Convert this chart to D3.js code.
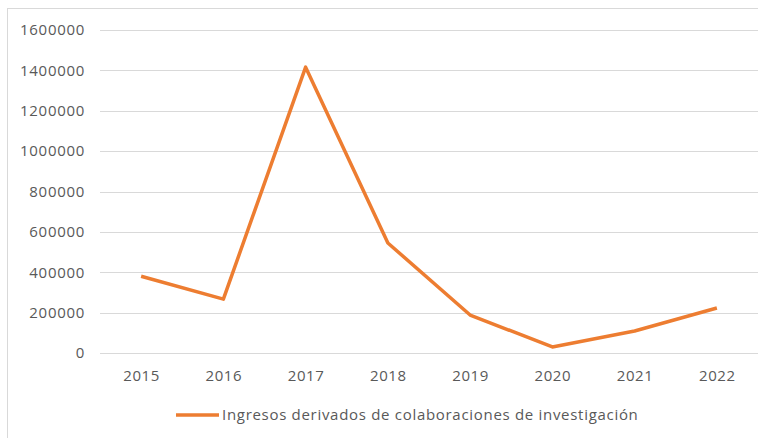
<!DOCTYPE html>
<html lang="es">
<head>
<meta charset="UTF-8">
<title>Ingresos</title>
<script src="https://d3js.org/d3.v7.min.js"></script>
<style>
body { margin: 0; background: #fff; overflow: hidden; }
text { font-family: "Open Sans", "Noto Sans", sans-serif; fill: #595959; }
</style>
</head>
<body>
<div id="grafico"></div>
<script>
var anios = ["2015", "2016", "2017", "2018", "2019", "2020", "2021", "2022"];
var ingresos = [380000, 267000, 1416000, 545000, 188000, 30000, 109000, 223000];
var ticksY = [0, 200000, 400000, 600000, 800000, 1000000, 1200000, 1400000, 1600000];
var nombreSerie = "Ingresos derivados de colaboraciones de investigación";

var ancho = 758, altura = 438;
var margen = { izquierdo: 100, derecho: 0, superior: 30, inferior: 85 };

var svg = d3.select("#grafico").append("svg")
    .attr("width", ancho)
    .attr("height", altura);

// marco del grafico
svg.append("rect")
    .attr("x", 7.5).attr("y", 8.5)
    .attr("width", ancho).attr("height", altura)
    .attr("fill", "none").attr("stroke", "#d9d9d9");

var escalaX = d3.scalePoint()
    .domain(anios)
    .range([margen.izquierdo, ancho - margen.derecho])
    .padding(0.5);

var escalaY = d3.scaleLinear()
    .domain([0, 1600000])
    .range([353, 30]);

// rejilla
svg.append("g")
    .selectAll("line")
    .data(ticksY)
    .join("line")
    .attr("x1", margen.izquierdo)
    .attr("x2", ancho)
    .attr("y1", function(d) { return Math.round(escalaY(d)) + 0.5; })
    .attr("y2", function(d) { return Math.round(escalaY(d)) + 0.5; })
    .attr("stroke", "#d9d9d9");

// eje y
var ejeY = svg.append("g")
    .attr("transform", "translate(" + (margen.izquierdo - 15) + ",0)")
    .call(d3.axisLeft(escalaY).tickValues(ticksY).tickFormat(d3.format("d")).tickSize(0).tickPadding(0));
ejeY.select(".domain").remove();
ejeY.selectAll("text").style("font-size", "15px").style("letter-spacing", "0.7px").attr("fill", "#595959");

// eje x
var ejeX = svg.append("g")
    .attr("transform", "translate(0," + 370 + ")")
    .call(d3.axisBottom(escalaX).tickSize(0).tickPadding(0));
ejeX.select(".domain").remove();
ejeX.selectAll("text").style("font-size", "15px").style("letter-spacing", "0.6px").attr("fill", "#595959");

// linea
var linea = d3.line()
    .x(function(d, i) { return escalaX(anios[i]); })
    .y(function(d) { return escalaY(d); });

svg.append("path")
    .datum(ingresos)
    .attr("d", linea)
    .attr("fill", "none")
    .attr("stroke", "#ED7D31")
    .attr("stroke-width", 3.5)
    .attr("stroke-linejoin", "round");

// leyenda
var leyenda = svg.append("g").attr("transform", "translate(176,415)");
leyenda.append("line")
    .attr("x1", 0).attr("x2", 43)
    .attr("stroke", "#ED7D31")
    .attr("stroke-width", 3.5);
leyenda.append("text")
    .attr("x", 46).attr("dy", "0.35em")
    .style("font-size", "15px")
    .style("letter-spacing", "0.7px")
    .text(nombreSerie);
</script>
</body>
</html>
